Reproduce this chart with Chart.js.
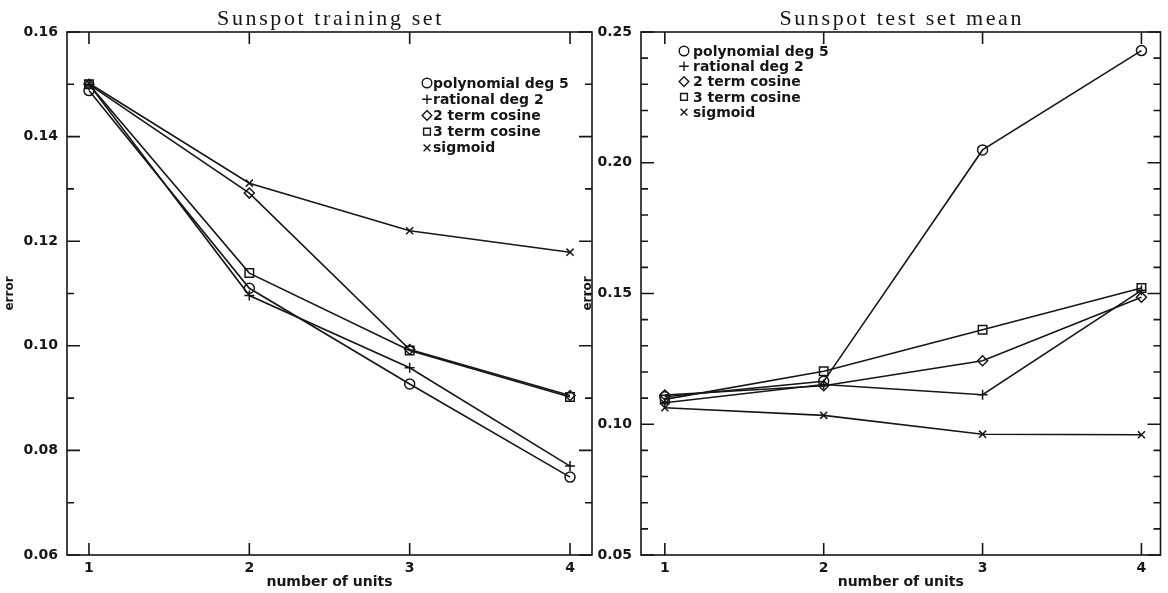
<!DOCTYPE html>
<html lang="en">
<head>
  <meta charset="UTF-8">
  <title>Sunspot error vs number of units</title>
  <script src="https://cdn.jsdelivr.net/npm/chart.js@4"></script>
  <style>
    body { margin: 0; background: #fff; }
    #wrap { position: relative; width: 1168px; height: 593px; }
    canvas { position: absolute; top: 0; }
  </style>
</head>
<body>
<div id="wrap">
  <canvas id="trainChart" width="600" height="593" style="left:0"></canvas>
  <canvas id="testChart" width="600" height="593" style="left:568px"></canvas>
</div>

<script>
  // x values (number of units)
  const units = [1, 2, 3, 4];
  const seriesNames = ['polynomial deg 5', 'rational deg 2', '2 term cosine', '3 term cosine', 'sigmoid'];
  const markers = ['circle', 'cross', 'rectRot', 'rect', 'crossRot'];

  // Sunspot training set
  const trainPoly     = [0.1488, 0.1110, 0.0927, 0.0749];
  const trainRational = [0.1500, 0.1096, 0.0958, 0.0770];
  const trainCos2     = [0.1500, 0.1292, 0.0993, 0.0905];
  const trainCos3     = [0.1500, 0.1139, 0.0991, 0.0902];
  const trainSigmoid  = [0.1502, 0.1311, 0.1220, 0.1179];
  const trainLabels   = [0.06, 0.08, 0.10, 0.12, 0.14, 0.16];

  // Sunspot test set mean
  const testPoly      = [0.1105, 0.1164, 0.2049, 0.2429];
  const testRational  = [0.1082, 0.1152, 0.1113, 0.1512];
  const testCos2      = [0.1112, 0.1147, 0.1243, 0.1486];
  const testCos3      = [0.1095, 0.1203, 0.1361, 0.1521];
  const testSigmoid   = [0.1063, 0.1034, 0.0962, 0.0960];
  const testLabels    = [0.05, 0.10, 0.15, 0.20, 0.25];

  const ink = '#161616';
  Chart.defaults.font.family = "'DejaVu Sans', sans-serif";
  Chart.defaults.color = ink;

  // box round the plot with ticks pointing inwards on all four sides
  const framePlugin = {
    id: 'frame',
    afterDatasetsDraw(chart) {
      const { ctx, chartArea: a, scales: { x, y } } = chart;
      ctx.save();
      ctx.strokeStyle = ink;
      ctx.lineWidth = 1.6;
      ctx.strokeRect(a.left, a.top, a.right - a.left, a.bottom - a.top);
      ctx.beginPath();
      x.ticks.forEach(t => {
        const px = x.getPixelForValue(t.value);
        ctx.moveTo(px, a.bottom); ctx.lineTo(px, a.bottom - 12);
        ctx.moveTo(px, a.top); ctx.lineTo(px, a.top + 12);
      });
      y.ticks.forEach(t => {
        const py = y.getPixelForValue(t.value);
        const len = t.label ? 13 : 7;
        ctx.moveTo(a.left, py); ctx.lineTo(a.left + len, py);
        ctx.moveTo(a.right, py); ctx.lineTo(a.right - len, py);
      });
      ctx.stroke();
      ctx.restore();
    }
  };

  // title above the box, a little letter-spaced like the plotter font
  const spacedTitlePlugin = {
    id: 'spacedTitle',
    afterDraw(chart, args, opts) {
      const { ctx, chartArea: a } = chart;
      ctx.save();
      ctx.font = "22px 'Liberation Serif', serif";
      ctx.letterSpacing = '2.6px';
      ctx.fillStyle = ink;
      ctx.textAlign = 'center';
      ctx.textBaseline = 'alphabetic';
      ctx.fillText(opts.text, (a.left + a.right) / 2 + 1, a.top - 7);
      ctx.restore();
    }
  };

  // legend written inside the plot
  const boxLegendPlugin = {
    id: 'boxLegend',
    afterDraw(chart, args, opts) {
      const { ctx } = chart;
      ctx.save();
      ctx.font = "bold 14px 'DejaVu Sans'";
      ctx.textBaseline = 'middle';
      chart.data.datasets.forEach((ds, i) => {
        const y = opts.y + i * opts.lineH;
        ctx.strokeStyle = ink;
        ctx.lineWidth = 1.4;
        ctx.fillStyle = 'rgba(0,0,0,0)';
        Chart.helpers.drawPoint(ctx, { pointStyle: ds.pointStyle, radius: 4.8, borderWidth: 1.4, rotation: 0 }, opts.x, y);
        ctx.fillStyle = ink;
        ctx.fillText(ds.label, opts.x + opts.gap, y + 1);
      });
      ctx.restore();
    }
  };

  function makeDatasets(seriesList) {
    return seriesList.map((vals, i) => ({
      label: seriesNames[i],
      data: units.map((u, j) => ({ x: u, y: vals[j] })),
      borderColor: ink,
      backgroundColor: 'rgba(0,0,0,0)',
      borderWidth: 1.6,
      pointStyle: markers[i],
      pointRadius: markers[i] === 'rect' ? 6 : 5,
      pointBorderWidth: 1.5,
      pointBorderColor: ink,
      pointBackgroundColor: 'rgba(0,0,0,0)',
      tension: 0
    }));
  }

  function drawChart(canvasId, title, seriesList, yMin, yMax, majorLabels, cfg) {
    const ctx = document.getElementById(canvasId).getContext('2d');
    return new Chart(ctx, {
      type: 'line',
      data: { datasets: makeDatasets(seriesList) },
      options: {
        responsive: false,
        animation: false,
        layout: { padding: { left: 0, right: cfg.padRight, top: 32, bottom: 0 } },
        plugins: {
          legend: { display: false },
          title: { display: false },
          tooltip: { enabled: false },
          spacedTitle: { text: title },
          boxLegend: cfg.legend
        },
        scales: {
          x: {
            type: 'linear',
            min: cfg.xMin,
            max: cfg.xMax,
            afterBuildTicks: s => { s.ticks = units.map(v => ({ value: v })); },
            afterFit: s => { s.height = 38; },
            grid: { display: false, drawTicks: false },
            border: { display: false },
            ticks: { padding: 5, maxRotation: 0, color: ink, font: { size: 14, weight: 'bold' }, callback: v => String(v) },
            title: { display: true, text: 'number of units', color: ink, font: { size: 14, weight: 'bold' }, padding: { top: 0, bottom: 2 } }
          },
          y: {
            min: yMin,
            max: yMax,
            afterFit: s => { s.width = cfg.yWidth; },
            grid: { display: false, drawTicks: false },
            border: { display: false },
            ticks: {
              stepSize: 0.01,
              autoSkip: false,
              padding: 9,
              color: ink,
              font: { size: 14, weight: 'bold' },
              callback: v => majorLabels.some(m => Math.abs(m - v) < 1e-6) ? v.toFixed(2) : ''
            },
            title: { display: true, text: 'error', color: ink, font: { size: 12, weight: 'bold' }, padding: { top: cfg.titlePad, bottom: 0 } }
          }
        }
      },
      plugins: [framePlugin, spacedTitlePlugin, boxLegendPlugin]
    });
  }

  drawChart('trainChart', 'Sunspot training set',
    [trainPoly, trainRational, trainCos2, trainCos3, trainSigmoid],
    0.06, 0.16, trainLabels,
    { xMin: 0.863, xMax: 4.137, yWidth: 67, padRight: 8, titlePad: 3,
      legend: { x: 427, y: 83, lineH: 16.2, gap: 6 } });

  drawChart('testChart', 'Sunspot test set mean',
    [testPoly, testRational, testCos2, testCos3, testSigmoid],
    0.05, 0.25, testLabels,
    { xMin: 0.85, xMax: 4.12, yWidth: 73, padRight: 5, titlePad: 13,
      legend: { x: 116, y: 51, lineH: 15.3, gap: 9 } });
</script>
</body>
</html>
